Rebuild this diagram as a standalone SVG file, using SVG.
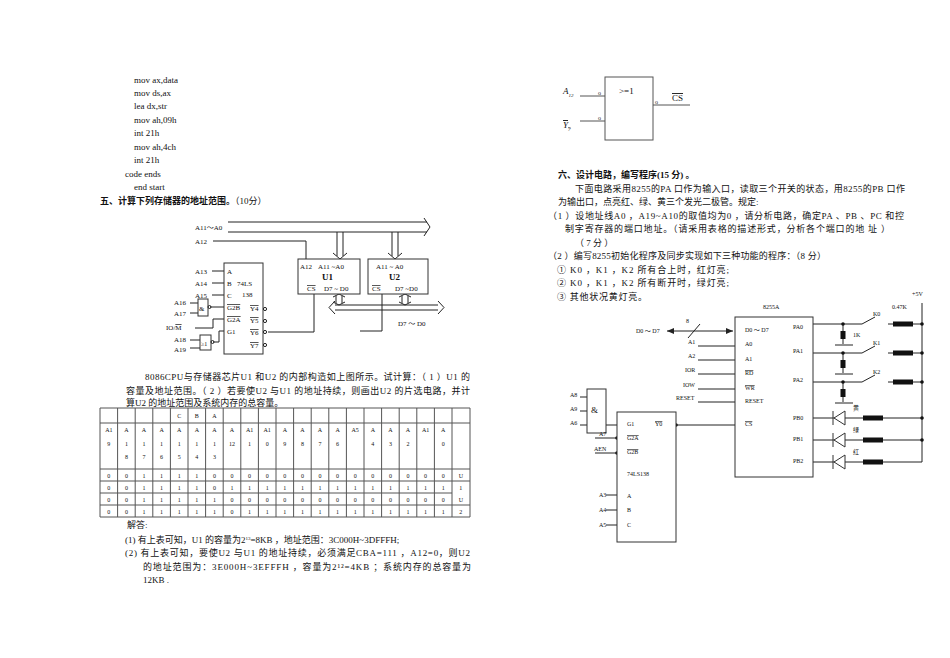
<svg xmlns="http://www.w3.org/2000/svg" width="950" height="658" viewBox="0 0 950 658">
<style>
text{font-family:"Liberation Serif","Noto Sans CJK SC",serif;font-size:9px;fill:#111}
.s{font-size:7px}
.xs{font-size:6px}
.b{font-weight:bold}
.l{stroke:#222;stroke-width:1;fill:none}
.l2{stroke:#555;stroke-width:1;fill:none}
.bx{stroke:#333;stroke-width:1;fill:#fff}
.r{fill:#111}
.d{fill:#111}
.o{text-decoration:overline}
.m{text-anchor:middle;font-size:6px}
</style>
<defs>
<marker id="af" markerWidth="8" markerHeight="8" refX="7" refY="4" orient="auto-start-reverse" markerUnits="userSpaceOnUse"><path d="M0,1 L7,4 L0,7Z" fill="#222"/></marker>
</defs>
<rect width="950" height="658" fill="#fff"/>

<g id="code" xml:space="preserve">
<text x="134" y="83">mov ax,data</text>
<text x="134" y="96">mov ds,ax</text>
<text x="134" y="109">lea    dx,str</text>
<text x="134" y="123">mov ah,09h</text>
<text x="134" y="136">int     21h</text>
<text x="134" y="150">mov ah,4ch</text>
<text x="134" y="163">int     21h</text>
<text x="125" y="177">code ends</text>
<text x="134" y="190">end start</text>
<text x="100" y="204" class="b">五、计算下列存储器的地址范围。<tspan font-weight="normal">（10分）</tspan></text>
</g>

<g id="circuit1">
<g id="connectors1">
<path class="l" d="M228,222 H427 M228,232 H427"/>
<path class="l" d="M424,218 L430,227 L424,236"/>
<path class="l" d="M213,241 H306 V259"/>
<path class="l" d="M337,232 V256 M343,232 V256 M333,253 L340,259 L347,253"/>
<path class="l" d="M392,232 V256 M398,232 V256 M388,253 L395,259 L402,253"/>
<path class="l" d="M335,305 H438 M335,310 H438 M335,301 L329,307.5 L335,314 M438,301 L444,307.5 L438,314"/>
<path class="l" d="M336,296 V303 M342,296 V303 M333,297 L339,294 L345,297 M333,302 L339,305 L345,302"/>
<path class="l" d="M402,296 V303 M408,296 V303 M399,297 L405,294 L411,297 M399,302 L405,305 L411,302"/>
<path class="l" d="M268,332 H314 V294"/>
<path class="l" d="M382,294 V331 H360"/>
<path class="l" d="M212,271 H224 M212,283 H224 M212,295 H224"/>
<path class="l" d="M190,303 H198 M190,313 H198 M210,307 H224"/>
<path class="l" d="M195,328 H213 V319 H224"/>
<path class="l" d="M190,340 H200 M190,348 H200 M213,342 H219 V331 H224"/>
</g>
<g id="U1"><rect class="bx" x="298" y="259" width="62" height="35"/>
<text x="300" y="269" class="s">A12</text><text x="318" y="269" class="s">A11 ~A0</text>
<text x="322" y="280" class="b">U1</text><text x="307" y="291" class="s o">CS</text><text x="324" y="291" class="s">D7 ~ D0</text></g>
<g id="U2"><rect class="bx" x="368" y="259" width="60" height="35"/>
<text x="376" y="269" class="s">A11 ~ A0</text><text x="389" y="280" class="b">U2</text>
<text x="372" y="291" class="s o">CS</text><text x="395" y="291" class="s">D7 ~D0</text></g>
<g id="dec1"><rect class="bx" x="224" y="263" width="39" height="91"/>
<text x="227" y="274" class="s">A</text><text x="227" y="286" class="s">B</text><text x="227" y="298" class="s">C</text>
<text x="227" y="310" class="s o">G2B</text><text x="227" y="322" class="s o">G2A</text><text x="227" y="334" class="s">G1</text>
<text x="237" y="286" class="s">74LS</text><text x="242" y="297" class="s">138</text>
<text x="250" y="311" class="s o">Y4</text><text x="250" y="323" class="s o">Y5</text><text x="250" y="335" class="s o">Y6</text><text x="250" y="348" class="s o">Y7</text>
<circle cx="265" cy="309" r="1.6" class="l"/><circle cx="265" cy="321" r="1.6" class="l"/><circle cx="265" cy="332" r="1.6" class="l"/><circle cx="265" cy="345" r="1.6" class="l"/>
</g>
<g id="and1"><rect class="bx" x="198" y="299" width="10" height="17"/><text x="199" y="311" class="s">&amp;</text><circle cx="209.5" cy="307" r="1.5" class="l"/></g>
<g id="or1"><rect class="bx" x="200" y="335" width="11" height="15"/><text x="201" y="346" class="xs">≥1</text><circle cx="212.5" cy="342" r="1.5" class="l"/></g>
<g id="labels1">
<text x="195" y="230" class="s">A11～A0</text><text x="195" y="244" class="s">A12</text>
<text x="195" y="274" class="s">A13</text><text x="195" y="286" class="s">A14</text><text x="195" y="298" class="s">A15</text>
<text x="174" y="305" class="s">A16</text><text x="174" y="316" class="s">A17</text>
<text x="166" y="330" class="s">IO/<tspan class="o">M</tspan></text>
<text x="174" y="342" class="s">A18</text><text x="174" y="352" class="s">A19</text>
<text x="398" y="326" class="s">D7 ～ D0</text>
</g>
</g>

<g id="para1">
<text x="145" y="380" textLength="325">8086CPU与存储器芯片U1   和U2   的内部构造如上图所示。试计算：（ 1 ）U1   的</text>
<text x="126" y="394" textLength="344">容量及地址范围。（ 2 ）若要使U2   与U1   的地址持续，则画出U2   的片选电路，并计</text>
<text x="126" y="406">算U2   的地址范围及系统内存的总容量。</text>
</g>

<g id="table">
<path class="l2" d="M100,408 H470 M100,423 H470 M100,469 H470 M100,481 H470 M100,493 H452 M100,505 H470 M100,517 H470"/>
<path class="l2" d="M100,408 V517 M117.6,408 V517 M135.2,408 V517 M152.8,408 V517 M170.4,408 V517 M188,408 V517 M205.6,408 V517 M223.2,408 V517 M240.8,408 V517 M258.4,408 V517 M276,408 V517 M293.6,408 V517 M311.2,408 V517 M328.8,408 V517 M346.4,408 V517 M364,408 V517 M381.6,408 V517 M399.2,408 V517 M416.8,408 V517 M434.4,408 V517 M452,408 V517 M470,408 V517"/>
<text class="m" x="179.2 196.8 214.4" y="418">CBA</text>
<text class="m" x="108.8" y="432">A1</text><text class="m" x="108.8" y="446">9</text>
<text class="m" x="126.4 144 161.6 179.2 196.8 214.4 232" y="432">AAAAAAA</text>
<text class="m" x="126.4 144 161.6 179.2 196.8 214.4" y="446">111111</text>
<text class="m" x="126.4 144 161.6 179.2 196.8 214.4" y="459">876543</text>
<text class="m" x="232" y="446">12</text>
<text class="m" x="249.6" y="432">A1</text><text class="m" x="249.6" y="446">1</text>
<text class="m" x="267.2" y="432">A1</text><text class="m" x="267.2" y="446">0</text>
<text class="m" x="284.8 302.4 320 337.6" y="432">AAAA</text>
<text class="m" x="284.8 302.4 320 337.6" y="446">9876</text>
<text class="m" x="355.2" y="432">A5</text>
<text class="m" x="372.8 390.4 408" y="432">AAA</text>
<text class="m" x="372.8 390.4 408" y="446">432</text>
<text class="m" x="425.6" y="432">A1</text>
<text class="m" x="443.2" y="432">A</text><text class="m" x="443.2" y="446">0</text>
<text class="m" x="108.8 126.4 144 161.6 179.2 196.8 214.4 232 249.6 267.2 284.8 302.4 320 337.6 355.2 372.8 390.4 408 425.6 443.2 460.8" y="478">00111100000000000000U</text>
<text class="m" x="108.8 126.4 144 161.6 179.2 196.8 214.4 232 249.6 267.2 284.8 302.4 320 337.6 355.2 372.8 390.4 408 425.6 443.2 460.8" y="490">001111011111111111111</text>
<text class="m" x="108.8 126.4 144 161.6 179.2 196.8 214.4 232 249.6 267.2 284.8 302.4 320 337.6 355.2 372.8 390.4 408 425.6 443.2 460.8" y="502">00111110000000000000U</text>
<text class="m" x="108.8 126.4 144 161.6 179.2 196.8 214.4 232 249.6 267.2 284.8 302.4 320 337.6 355.2 372.8 390.4 408 425.6 443.2 460.8" y="514">001111101111111111112</text>
</g>

<g id="answer">
<text x="127" y="528">解答:</text>
<text x="125" y="543">(1)   有上表可知，U1   的容量为2<tspan font-size="5" dy="-3">13</tspan><tspan dy="3">=8KB ，地址范围：3C000H~3DFFFH;</tspan></text>
<text x="125" y="556" textLength="345">(2)   有上表可知，要使U2   与U1   的地址持续，必须满足CBA=111   ，A12=0，则U2</text>
<text x="143" y="570" textLength="328">的地址范围为：3E000H~3EFFFH   ，容量为2¹²=4KB ；系统内存的总容量为</text>
<text x="143" y="583">12KB  .</text>
</g>

<g id="or2">
<rect class="l2" x="605" y="77" width="48" height="63"/>
<text x="619" y="94">&gt;=1</text>
<path class="l2" d="M580,96 H605 M580,121 H605 M653,105 H690"/>
<text x="598" y="95" class="xs">o</text><text x="598" y="120" class="xs">o</text><text x="655" y="104" class="xs">o</text>
<text x="563" y="94" font-style="italic" font-size="11">A<tspan font-size="5" dy="3">12</tspan></text>
<text x="563" y="128" font-style="italic" font-size="11" class="o">Y<tspan font-size="5" dy="3">7</tspan></text>
<text x="672" y="101" font-size="11" class="o">CS</text>
</g>

<g id="sec6">
<text x="558" y="178" class="b">六、设计电路，编写程序(15  分)  。</text>
<text x="575" y="192" textLength="330">下面电路采用8255的PA   口作为输入口，读取三个开关的状态，用8255的PB   口作</text>
<text x="558" y="205">为输出口，点亮红、绿、黄三个发光二极管。规定:</text>
<text x="548" y="219" textLength="356">（1 ）设地址线A0  ，A19~A10的取值均为0 ，请分析电路，确定PA   、PB   、PC   和控</text>
<text x="565" y="232" textLength="325">制字寄存器的端口地址。（请采用表格的描述形式，分析各个端口的地   址    ）</text>
<text x="575" y="246">（   7 分   ）</text>
<text x="548" y="259" textLength="278">（2 ）编写8255初始化程序及同步实现如下三种功能的程序：（8 分）</text>
<text x="557" y="273" textLength="172">① K0 ，K1  ，K2  所有合上时，红灯亮;</text>
<text x="557" y="286" textLength="172">② K0 ，K1  ，K2  所有断开时，绿灯亮;</text>
<text x="557" y="300" textLength="90">③  其他状况黄灯亮。</text>
</g>

<g id="circuit2">
<g id="connectors2">
<path class="l" d="M667,331 H733" marker-start="url(#af)" marker-end="url(#af)"/>
<path class="l" d="M688,338 L700,324"/>
<path class="l" d="M698,346 H735 M698,360 H735 M698,374 H735 M698,389 H735 M698,402 H735 M676,425 H735"/>
<path class="l" d="M606,425 H617 M595,438 H617 M595,453 H617 M606,495 H617 M606,510 H617 M606,525 H617"/>
<path class="l" d="M580,397 H587 M580,411 H587 M580,425 H587"/>
<path class="l" d="M813,324 H862 L875,317 M888,324 H922 M813,353 H862 L875,346 M888,353 H922 M813,382 H862 L875,375 M888,382 H922"/>
<path class="l" d="M922,303 V462"/>
<path class="l" d="M843,324 V344 M835,345 H853 M843,353 V373 M835,374 H853 M843,382 V402 M835,403 H853"/>
<path class="l" d="M813,418 H922 M813,440 H922 M813,462 H922"/>
</g>
<g id="resistors">
<rect class="r" x="893" y="321.5" width="20" height="5"/><rect class="r" x="893" y="350.5" width="20" height="5"/><rect class="r" x="893" y="379.5" width="20" height="5"/>
<rect class="r" x="840.5" y="331" width="5" height="8"/><rect class="r" x="840.5" y="360" width="5" height="8"/><rect class="r" x="840.5" y="389" width="5" height="8"/>
<rect class="r" x="863" y="415.5" width="20" height="5"/><rect class="r" x="863" y="437.5" width="20" height="5"/><rect class="r" x="863" y="459.5" width="20" height="5"/>
</g>
<g id="diodes">
<path d="M834,418 L845,411 V425 Z M833,411 V425" class="bx"/>
<path d="M834,440 L845,433 V447 Z M833,433 V447" class="bx"/>
<path d="M834,462 L845,455 V469 Z M833,455 V469" class="bx"/>
</g>
<g class="d">
<circle cx="843" cy="324" r="1.8"/><circle cx="843" cy="353" r="1.8"/><circle cx="843" cy="382" r="1.8"/>
<circle cx="922" cy="324" r="1.8"/><circle cx="922" cy="353" r="1.8"/><circle cx="922" cy="382" r="1.8"/>
<circle cx="922" cy="418" r="1.8"/><circle cx="922" cy="440" r="1.8"/>
<circle cx="676" cy="425" r="1.8"/><circle cx="617" cy="438" r="1.8"/><circle cx="617" cy="453" r="1.8"/>
</g>
<g id="i8255"><rect class="bx" x="735" y="317" width="78" height="160"/>
<text x="763" y="309" class="xs">8255A</text>
<text x="745" y="332" class="xs">D0 ～ D7</text><text x="745" y="346" class="xs">A0</text><text x="745" y="361" class="xs">A1</text>
<text x="745" y="375" class="xs o">RD</text><text x="745" y="390" class="xs o">WR</text><text x="745" y="403" class="xs">RESET</text><text x="745" y="426" class="xs o">CS</text>
<text x="793" y="329" class="xs">PA0</text><text x="793" y="353" class="xs">PA1</text><text x="793" y="382" class="xs">PA2</text>
<text x="793" y="420" class="xs">PB0</text><text x="793" y="441" class="xs">PB1</text><text x="793" y="463" class="xs">PB2</text>
</g>
<g id="dec2"><rect class="bx" x="617" y="412" width="59" height="130"/>
<text x="627" y="426" class="xs">G1</text><text x="655" y="426" class="xs o">Y0</text>
<text x="627" y="440" class="xs o">G2A</text><text x="627" y="454" class="xs o">G2B</text><text x="627" y="476" class="xs">74LS138</text>
<text x="627" y="498" class="xs">A</text><text x="627" y="512" class="xs">B</text><text x="627" y="527" class="xs">C</text>
</g>
<g id="and2"><rect class="bx" x="587" y="389" width="19" height="44"/><text x="591" y="413">&amp;</text></g>
<g id="labels2">
<text x="636" y="333" class="xs">D0 ～ D7</text><text x="686" y="323" class="xs">8</text>
<text x="688" y="344" class="xs">A1</text><text x="688" y="358" class="xs">A2</text><text x="685" y="372" class="xs">IOR</text><text x="683" y="387" class="xs">IOW</text><text x="676" y="400" class="xs">RESET</text>
<text x="570" y="397" class="xs">A8</text><text x="570" y="411" class="xs">A9</text><text x="570" y="425" class="xs">A6</text>
<text x="599" y="436" class="xs">A7</text><text x="594" y="451" class="xs">AEN</text>
<text x="599" y="497" class="xs">A3</text><text x="599" y="512" class="xs">A4</text><text x="599" y="527" class="xs">A5</text>
<text x="912" y="296" class="xs">+5V</text><text x="892" y="309" class="xs">0.47K</text>
<text x="873" y="316" class="xs">K0</text><text x="873" y="345" class="xs">K1</text><text x="873" y="374" class="xs">K2</text>
<text x="853" y="337" class="xs">1K</text>
<text x="853" y="410" class="xs">黄</text><text x="853" y="432" class="xs">绿</text><text x="853" y="454" class="xs">红</text>
</g>
</g>
</svg>
